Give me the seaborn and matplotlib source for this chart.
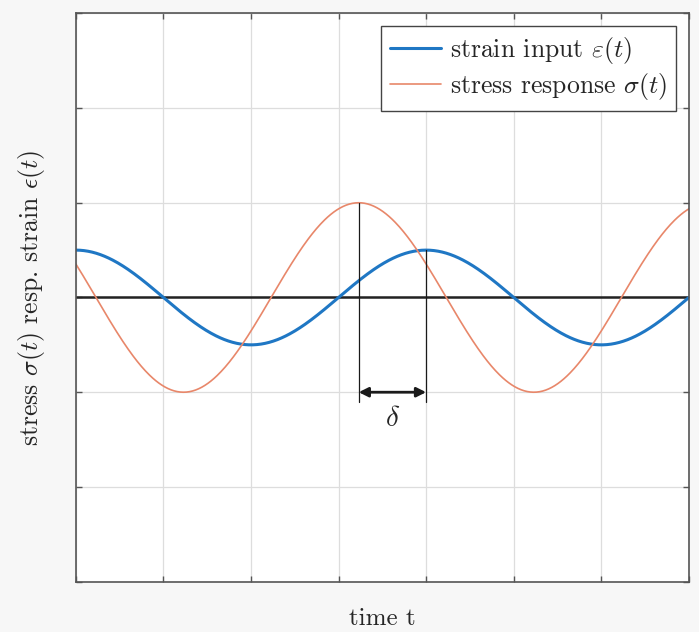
import numpy as np
import pandas as pd
import matplotlib
matplotlib.use("Agg")
import matplotlib.pyplot as plt
import seaborn as sns

# values (axis units, no tick labels shown)
period = 4.0          # same period for both signals
amp_strain = 0.5      # strain input amplitude
amp_stress = 1.0      # stress response amplitude
peak_strain = 4.0     # time of the strain peak that is marked
delta = 0.77          # phase lag: stress peaks before strain
x_ticks = [0, 1, 2, 3, 4, 5, 6, 7]
y_ticks = [-3, -2, -1, 0, 1, 2, 3]

t = np.linspace(x_ticks[0], x_ticks[-1], 600)
strain = amp_strain * np.cos(2 * np.pi * (t - peak_strain) / period)
stress = amp_stress * np.cos(2 * np.pi * (t - (peak_strain - delta)) / period)
df = pd.DataFrame({"t": t, "strain": strain, "stress": stress})

sns.set_theme(style="whitegrid")
plt.rcParams["font.family"] = ["cmr10", "DejaVu Serif"]
plt.rcParams["mathtext.fontset"] = "cm"
plt.rcParams["axes.formatter.use_mathtext"] = True

fig = plt.figure(figsize=(6.99, 6.32), dpi=100, facecolor="#f7f7f7")
ax = fig.add_axes([0.1085, 0.0796, 0.877, 0.8994])
ax.set_facecolor("white")

sns.lineplot(data=df, x="t", y="strain", ax=ax, color="#1f77c4", lw=2.2,
             label=r"strain input $\varepsilon(t)$")
sns.lineplot(data=df, x="t", y="stress", ax=ax, color="#e8876a", lw=1.2,
             label=r"stress response $\sigma(t)$")

# zero line
ax.axhline(0, color="#222222", lw=1.8, zorder=1.5)

# markers for the phase lag
ax.plot([peak_strain - delta] * 2, [amp_stress, -1.1], color="k", lw=0.9)
ax.plot([peak_strain] * 2, [amp_strain, -1.1], color="k", lw=0.9)
ax.annotate("", xy=(peak_strain, -1), xytext=(peak_strain - delta, -1),
            arrowprops=dict(arrowstyle="<|-|>", color="k", lw=2,
                            mutation_scale=14, shrinkA=0, shrinkB=0))
ax.text(peak_strain - delta / 2, -1.28, r"$\delta$", ha="center", va="center", fontsize=21)

ax.set_xlim(x_ticks[0], x_ticks[-1])
ax.set_ylim(y_ticks[0], y_ticks[-1])
ax.set_xticks(x_ticks)
ax.set_yticks(y_ticks)
ax.set_xticklabels([])
ax.set_yticklabels([])
ax.tick_params(direction="in", length=4, width=1, color="#555555",
               top=True, right=True, bottom=True, left=True)
ax.grid(True, color="#dddddd", lw=0.9)
for s in ax.spines.values():
    s.set_color("#555555")
    s.set_linewidth(1.2)

ax.set_xlabel("time t", fontsize=18, labelpad=15)
ax.set_ylabel(r"stress $\sigma(t)$ resp. strain $\epsilon(t)$", fontsize=18.5, labelpad=17)

ax.legend(loc="upper right", fancybox=False, edgecolor="#444444", framealpha=1,
          fontsize=18.5, handlelength=2.0, handletextpad=0.35, borderaxespad=0.5,
          labelspacing=0.2, borderpad=0.35)

plt.savefig("out.png", dpi=100, facecolor=fig.get_facecolor())
